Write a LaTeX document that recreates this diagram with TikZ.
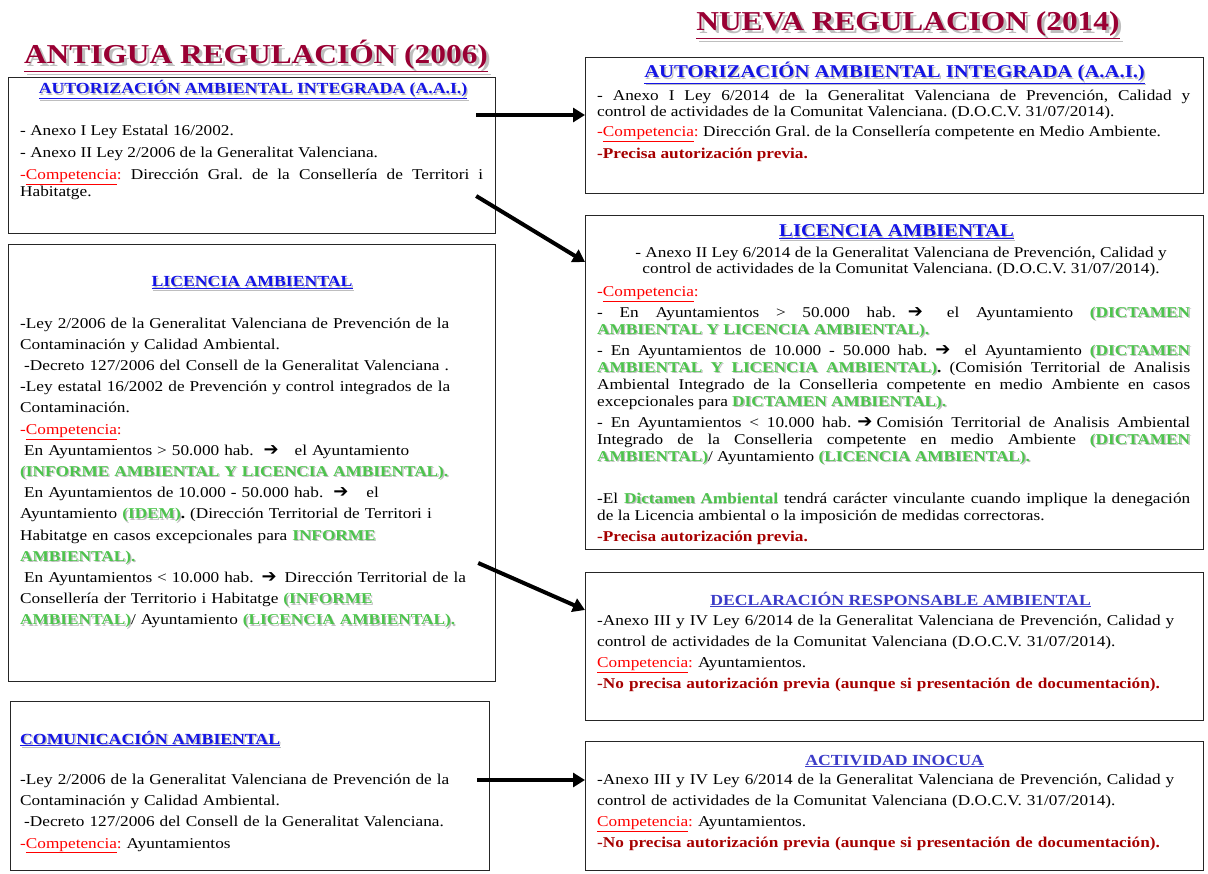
\documentclass[tikz,border=0pt]{standalone}
\usepackage{fontspec}
\setmainfont{Liberation Serif}[FakeStretch=1.15]
\newfontfamily\dejavu{DejaVu Sans}
\usetikzlibrary{arrows.meta,calc,positioning}
\frenchspacing

\definecolor{granate}{RGB}{153,0,51}
\definecolor{azul}{RGB}{20,20,230}
\definecolor{azulclaro}{RGB}{60,60,200}
\definecolor{verde}{RGB}{76,196,76}
\definecolor{rojo}{RGB}{255,0,0}
\definecolor{rojooscuro}{RGB}{165,0,0}
\definecolor{sombragris}{RGB}{190,190,190}

% texto con sombra gris
\newcommand\sombra[3][1.3pt]{\makebox[0pt][l]{\hspace{#1}\raisebox{-#1}{\textcolor{sombragris}{#3}}}\textcolor{#2}{#3}}
\newcommand\vd[1]{\sombra{verde}{\textbf{#1}}}
\newcommand\comp{\textcolor{rojo}{-\underline{Competencia}:}}
\newcommand\compb{\textcolor{rojo}{\underline{Competencia}:}}
\newcommand\oscuro[1]{\textcolor{rojooscuro}{\textbf{#1}}}
\newcommand\fl{{\dejavu\bfseries\fontsize{18}{15}\selectfont ➔}}
\newcommand\arr{\rule{0pt}{12pt}}

\begin{document}
\begin{tikzpicture}[x=1pt,y=-1pt,
    caja/.style={draw=black!85, line width=1.2pt, inner sep=0pt, anchor=north west},
    titulo/.style={font=\bfseries\fontsize{27.3}{30}\selectfont, inner sep=0pt, anchor=base},
    encab/.style={font=\bfseries\fontsize{15.4}{18}\selectfont, inner sep=0pt, anchor=base},
    encabg/.style={font=\bfseries\fontsize{18}{21}\selectfont, inner sep=0pt, anchor=base},
    cuerpo/.style={inner sep=0pt, anchor=north west, align=justify},
    conector/.style={line width=4pt, -{Triangle[length=12pt,width=14pt]}}]
    \useasboundingbox (0,0) rectangle (1208,874);

    % --- Titulos ---
    \node[titulo] (tant) at (256,64) {\sombra[3pt]{granate}{\underline{ANTIGUA REGULACIÓN (2006)}}};
    \node[titulo] (tnue) at (908,31) {\sombra[3pt]{granate}{\underline{NUEVA REGULACION (2014)}}};

    % --- Cajas: antigua regulacion ---
    \node[caja, minimum width=487pt, minimum height=156pt] (l1) at (8,77) {};
    \node[caja, minimum width=487pt, minimum height=437pt] (l2) at (8,244) {};
    \node[caja, minimum width=479pt, minimum height=169pt] (l3) at (10,701) {};

    % --- Cajas: nueva regulacion ---
    \node[caja, minimum width=618pt, minimum height=136pt] (r1) at (585,57) {};
    \node[caja, minimum width=618pt, minimum height=334pt] (r2) at (585,215) {};
    \node[caja, minimum width=618pt, minimum height=148pt] (r3) at (585,572) {};
    \node[caja, minimum width=618pt, minimum height=129pt] (r4) at (585,741) {};

    % --- A.A.I. (2006) ---
    \node[encab] (l1h) at ($(l1.north)+(1,17)$) {\sombra{azul}{\underline{AUTORIZACIÓN AMBIENTAL INTEGRADA (A.A.I.)}}};
    \node[cuerpo, text width=463pt, font=\fontsize{15}{17}\selectfont] (l1t) at ($(l1.north west)+(12,46)$) {\arr- Anexo I Ley Estatal 16/2002.\\[5pt]
      - Anexo II Ley 2/2006 de la Generalitat Valenciana.\\[5pt]
      \comp{} Dirección Gral. de la Consellería de Territori i\linebreak Habitatge.};

    % --- Licencia ambiental (2006) ---
    \node[encab] (l2h) at ($(l2.north)+(0,43)$) {\sombra{azul}{\underline{LICENCIA AMBIENTAL}}};
    \node[cuerpo, align=left, text width=470pt, font=\fontsize{15}{21.2}\selectfont] (l2t) at ($(l2.north west)+(12,72)$) {\arr-Ley 2/2006 de la Generalitat Valenciana de Prevención de la\\
      Contaminación y Calidad Ambiental.\\
      \hspace*{4pt}-Decreto 127/2006 del Consell de la Generalitat Valenciana .\\
      -Ley estatal 16/2002 de Prevención y control integrados de la\\
      Contaminación.\\
      \comp\\
      \hspace*{4pt}En Ayuntamientos > 50.000 hab.\hspace{10pt}\fl\hspace{16pt}el Ayuntamiento\\
      \vd{(INFORME AMBIENTAL Y LICENCIA AMBIENTAL).}\\
      \hspace*{4pt}En Ayuntamientos de 10.000 - 50.000 hab.\hspace{10pt}\fl\hspace{18pt}el\\
      Ayuntamiento \vd{(IDEM)}\textbf{.} (Dirección Territorial de Territori i\\
      Habitatge en casos excepcionales para \vd{INFORME}\\
      \vd{AMBIENTAL).}\\
      \hspace*{4pt}En Ayuntamientos < 10.000 hab.\hspace{8pt}\fl\hspace{8pt}Dirección Territorial de la\\
      Consellería der Territorio i Habitatge \vd{(INFORME}\\
      \vd{AMBIENTAL)}/ Ayuntamiento \vd{(LICENCIA AMBIENTAL).}};

    % --- Comunicacion ambiental (2006) ---
    \node[encab, anchor=base west] (l3h) at ($(l3.north west)+(10,43)$) {\sombra{azul}{\underline{COMUNICACIÓN AMBIENTAL}}};
    \node[cuerpo, align=left, text width=465pt, font=\fontsize{15}{21.3}\selectfont] (l3t) at ($(l3.north west)+(10,71)$) {\arr-Ley 2/2006 de la Generalitat Valenciana de Prevención de la\\
      Contaminación y Calidad Ambiental.\\
      \hspace*{4pt}-Decreto 127/2006 del Consell de la Generalitat Valenciana.\\
      \comp{} Ayuntamientos};

    % --- A.A.I. (2014) ---
    \node[encabg] (r1h) at ($(r1.north)+(0,21)$) {\sombra{azul}{\underline{AUTORIZACIÓN AMBIENTAL INTEGRADA (A.A.I.)}}};
    \node[cuerpo, text width=593pt, font=\fontsize{15}{16}\selectfont] (r1t) at ($(r1.north west)+(12,31)$) {\arr- Anexo I Ley 6/2014 de la Generalitat Valenciana de Prevención, Calidad y\linebreak
      control de actividades de la Comunitat Valenciana. (D.O.C.V. 31/07/2014).\\[4pt]
      \comp{} Dirección Gral. de la Consellería competente en Medio Ambiente.\\[6pt]
      \oscuro{-Precisa autorización previa.}};

    % --- Licencia ambiental (2014) ---
    \node[encabg] (r2h) at ($(r2.north)+(2,22)$) {\sombra{azul}{\underline{LICENCIA AMBIENTAL}}};
    \node[inner sep=0pt, anchor=north, align=center, font=\fontsize{15}{16}\selectfont] (r2a) at ($(r2.north west)+(316,30)$) {\arr- Anexo II Ley 6/2014 de la Generalitat Valenciana de Prevención, Calidad y\\
      control de actividades de la Comunitat Valenciana. (D.O.C.V. 31/07/2014).};
    \node[cuerpo, text width=593pt, font=\fontsize{15}{17}\selectfont] (r2t) at ($(r2.north west)+(12,69)$) {\arr\comp\\[4pt]
      - En Ayuntamientos > 50.000 hab.\hspace{12pt}\fl\hspace{24pt}el Ayuntamiento \vd{(DICTAMEN}\linebreak
      \vd{AMBIENTAL Y LICENCIA AMBIENTAL).}\\[4pt]
      - En Ayuntamientos de 10.000 - 50.000 hab.\hspace{8pt}\fl\hspace{14pt}el Ayuntamiento \vd{(DICTAMEN}\linebreak
      \vd{AMBIENTAL} \vd{Y} \vd{LICENCIA} \vd{AMBIENTAL)}\textbf{.} (Comisión Territorial de Analisis\linebreak
      Ambiental Integrado de la Conselleria competente en medio Ambiente en casos\linebreak
      excepcionales para \vd{DICTAMEN AMBIENTAL).}\\[4pt]
      - En Ayuntamientos < 10.000 hab.\hspace{6pt}\fl\hspace{4pt}Comisión Territorial de Analisis Ambiental\linebreak
      Integrado de la Conselleria competente en medio Ambiente \vd{(DICTAMEN}\linebreak
      \vd{AMBIENTAL)}/ Ayuntamiento \vd{(LICENCIA AMBIENTAL).}\\[25pt]
      -El \vd{Dictamen Ambiental} tendrá carácter vinculante cuando implique la denegación\linebreak
      de la Licencia ambiental o la imposición de medidas correctoras.\\[4pt]
      \oscuro{-Precisa autorización previa.}};

    % --- Declaracion responsable (2014) ---
    \node[encab] (r3h) at ($(r3.north)+(6,33)$) {\textcolor{azulclaro}{\underline{DECLARACIÓN RESPONSABLE AMBIENTAL}}};
    \node[cuerpo, align=left, text width=600pt, font=\fontsize{15}{21}\selectfont] (r3t) at ($(r3.north west)+(12,41)$) {\arr-Anexo III y IV Ley 6/2014 de la Generalitat Valenciana de Prevención, Calidad y\\
      control de actividades de la Comunitat Valenciana (D.O.C.V. 31/07/2014).\\
      \compb{} Ayuntamientos.\\
      \oscuro{-No precisa autorización previa (aunque si presentación de documentación).}};

    % --- Actividad inocua (2014) ---
    \node[encab] (r4h) at ($(r4.north)+(0,24)$) {\textcolor{azulclaro}{\underline{ACTIVIDAD INOCUA}}};
    \node[cuerpo, align=left, text width=600pt, font=\fontsize{15}{21}\selectfont] (r4t) at ($(r4.north west)+(12,31)$) {\arr-Anexo III y IV Ley 6/2014 de la Generalitat Valenciana de Prevención, Calidad y\\
      control de actividades de la Comunitat Valenciana (D.O.C.V. 31/07/2014).\\
      \compb{} Ayuntamientos.\\
      \oscuro{-No precisa autorización previa (aunque si presentación de documentación).}};

    % --- Flechas ---
    \coordinate (s1) at ($(l1.north east)+(-20,38)$);
    \coordinate (s2) at ($(l1.north east)+(-20,119)$);
    \coordinate (e2) at ($(r2.north west)+(0,47)$);
    \coordinate (s3) at ($(l2.north east)+(-18,319)$);
    \coordinate (e3) at ($(r3.north west)+(0,38)$);
    \coordinate (s4) at ($(l3.north east)+(-13,79)$);
    \draw[conector] (s1) -- (s1 -| r1.west);
    \draw[conector] (s2) -- (e2);
    \draw[conector] (s3) -- (e3);
    \draw[conector] (s4) -- (s4 -| r4.west);
\end{tikzpicture}
\end{document}
